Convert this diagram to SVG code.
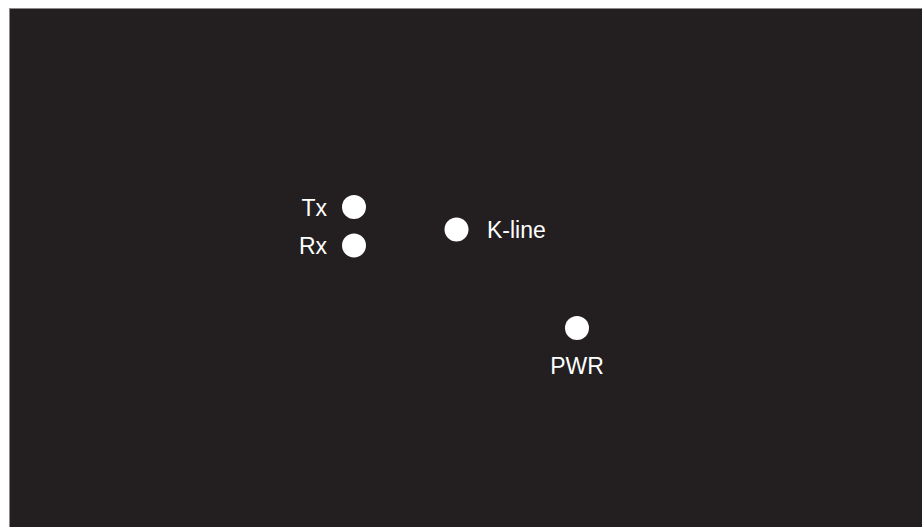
<svg xmlns="http://www.w3.org/2000/svg" width="922" height="527" viewBox="0 0 922 527">
<style>
.lbl{font-family:"Liberation Sans",Arial,sans-serif;font-size:23px;fill:#ffffff}
.dot{fill:#ffffff}
</style>
<rect x="0" y="0" width="922" height="527" fill="#ffffff"/>
<rect x="9.5" y="8.5" width="914" height="520" fill="#231f20" stroke="#8a8a8a" stroke-width="1"/>
<g id="tx"><circle class="dot" cx="354" cy="207" r="12"/><text class="lbl" x="327" y="216" text-anchor="end">Tx</text></g>
<g id="rx"><circle class="dot" cx="354" cy="245.5" r="12"/><text class="lbl" x="327" y="254" text-anchor="end">Rx</text></g>
<g id="kline"><circle class="dot" cx="456.5" cy="229.5" r="12"/><text class="lbl" x="487" y="238">K-line</text></g>
<g id="pwr"><circle class="dot" cx="577" cy="328" r="12"/><text class="lbl" x="577" y="374" text-anchor="middle">PWR</text></g>
<g id="connectors"/>
</svg>
